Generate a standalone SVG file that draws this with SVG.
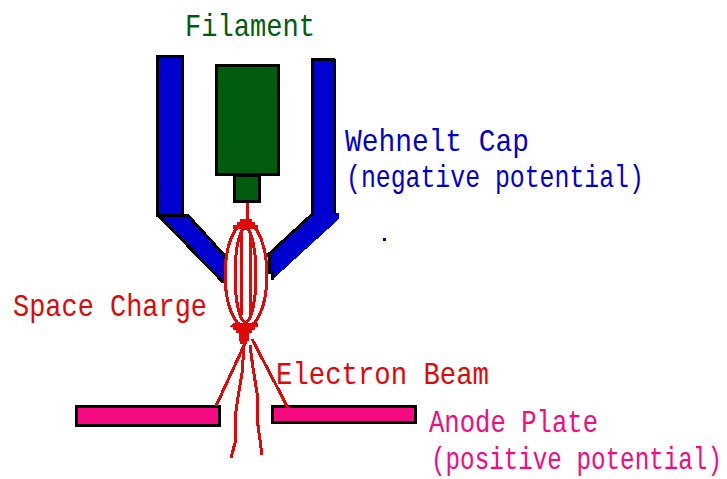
<svg xmlns="http://www.w3.org/2000/svg" width="727" height="479" viewBox="0 0 727 479">
<style>
text{font-family:"Liberation Mono","DejaVu Sans Mono",monospace;font-size:32px}
.bl{fill:#0000d0;stroke:#000;stroke-width:3;shape-rendering:crispEdges}
.gr{fill:#025c0e;stroke:#000;stroke-width:3;shape-rendering:crispEdges}
.pk{fill:#f50a82;stroke:#000;stroke-width:3;shape-rendering:crispEdges}
.r{fill:none;stroke:#e00808;stroke-width:3;shape-rendering:crispEdges}
.k{fill:none;stroke:#000;stroke-width:3;shape-rendering:crispEdges}
</style>
<rect width="727" height="479" fill="#fff"/>
<g id="filament">
<rect class="gr" x="216.500" y="65.500" width="62" height="109"/>
<rect class="gr" x="234.500" y="175.500" width="25" height="26"/>
<text x="185" y="36" fill="#025c0e" textLength="130" lengthAdjust="spacingAndGlyphs">Filament</text>
</g>
<g id="wehnelt-cap">
<polygon class="bl" points="157.500,56.500 182.500,56.500 182.500,215.500 188,215.500 224,255 224,281 222,281 160,217 157.500,215.500"/>
<path class="k" d="M157.500 215.500H182.500"/>
<polygon fill="#0000d0" shape-rendering="crispEdges" points="313,59 335,59 335,213 339,213 339,219 272,280 270,255 313,213"/>
<path class="k" d="M334.500 213V58.500"/>
<path class="k" d="M334.500 59.500H312.500V214L268 255H269.500V272L272 272V280"/>
<rect x="383" y="238" width="3" height="3" fill="#0000d0"/>
<text x="345" y="151" fill="#0000d0" textLength="184" lengthAdjust="spacingAndGlyphs">Wehnelt Cap</text>
<text transform="translate(346 187) scale(.776 1)" fill="#0000d0">(negative potential)</text>
</g>
<g id="space-charge">
<ellipse class="r" cx="246" cy="275" rx="21" ry="52"/>
<ellipse class="r" cx="245.500" cy="275" rx="10.500" ry="47"/>
<path class="r" d="M241.500 232V315M250.500 232V315"/>
<path fill="#e00808" shape-rendering="crispEdges" d="M240 219h12v3h3v3h3v4h-25v-4h4v-3h3zM233 323h25v4h-3v3h-3v3h-3v8h-3v3h-6v-3h-1v-8h-3v-3h-3v-3h-3z"/>
<text x="13" y="316" fill="#e00808" textLength="194" lengthAdjust="spacingAndGlyphs">Space Charge</text>
</g>
<g id="anode-plate">
<rect class="pk" x="76.500" y="406.500" width="143" height="19"/>
<rect class="pk" x="272.500" y="406.500" width="143" height="16"/>
<text x="429" y="432" fill="#f50a82" textLength="169" lengthAdjust="spacingAndGlyphs">Anode Plate</text>
<text transform="translate(431 469) scale(.758 1)" fill="#f50a82">(positive potential)</text>
</g>
<g id="connectors">
<path class="r" d="M247.500 203V220"/>
<path class="r" d="M247 339L216 406M252 339L288 408M244 348L242 373L238 397L235 418V443L231 458M250 345L253 368L257 393V418L260 440L262 455"/>
</g>
<g id="electron-beam">
<text x="276" y="384" fill="#e00808" textLength="213" lengthAdjust="spacingAndGlyphs">Electron Beam</text>
</g>
</svg>
